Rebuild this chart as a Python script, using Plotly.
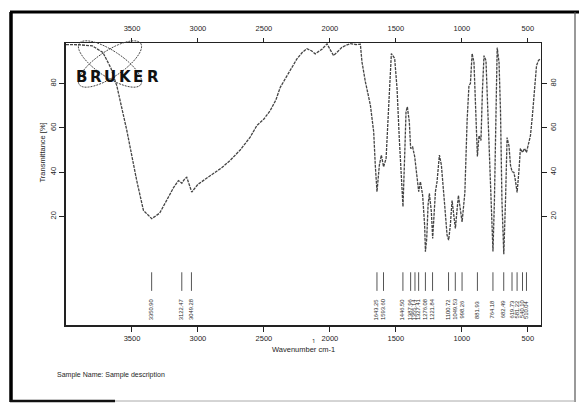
import numpy as np
import plotly.graph_objects as go

# ---- IR spectrum, transmittance vs wavenumber ----
wavenumber = [4000, 3900, 3800, 3720, 3660, 3615, 3539, 3464, 3413, 3350, 3290, 3236,
              3185, 3148, 3122, 3100, 3085, 3047, 3000, 2940, 2882, 2820, 2756, 2680,
              2604, 2553, 2500, 2452, 2410, 2376, 2335, 2301, 2250, 2210, 2174, 2140,
              2111, 2060, 2022, 1995, 1972, 1940, 1908, 1870, 1845, 1800, 1769, 1757,
              1731, 1693, 1668, 1656, 1643, 1625, 1610, 1593, 1574, 1554, 1534, 1509,
              1491, 1474, 1458, 1446, 1433, 1423, 1413, 1398, 1388, 1373, 1357, 1339,
              1327, 1314, 1297, 1282, 1276, 1266, 1256, 1246, 1231, 1221, 1210, 1200,
              1188, 1170, 1155, 1145, 1130, 1112, 1100, 1087, 1074, 1049, 1026, 998,
              977, 960, 946, 935, 922, 908, 893, 882, 870, 855, 844, 832, 817, 806,
              791, 779, 764, 753, 741, 732, 718, 707, 696, 682, 669, 657, 643, 631,
              619, 605, 594, 581, 567, 556, 540, 525, 510, 495, 480, 465, 447, 434,
              419, 408]
transmittance = [97.6, 97.5, 97.0, 94.0, 87.0, 79.0, 58.8, 36.2, 22.7, 19.0, 21.5, 27.2,
                 33.0, 36.2, 35.0, 37.0, 37.7, 31.0, 34.5, 37.0, 39.3, 42.0, 45.3, 50.0,
                 55.8, 61.1, 64.0, 67.8, 72.5, 78.3, 82.5, 85.9, 91.1, 94.0, 95.7, 94.8,
                 93.4, 95.5, 97.9, 95.0, 92.6, 94.5, 96.4, 97.5, 98.0, 97.6, 97.8, 89.8,
                 80.8, 70.2, 58.2, 43.2, 31.2, 43.2, 47.7, 42.4, 46.2, 70.2, 93.5, 91.3,
                 77.7, 55.2, 34.1, 24.4, 47.7, 67.2, 69.5, 62.7, 50.7, 51.4, 46.9, 35.7,
                 31.2, 35.7, 29.6, 16.1, 4.1, 10.1, 25.1, 30.4, 22.1, 10.1, 22.1, 31.2,
                 35.7, 47.7, 43.2, 37.2, 25.1, 11.6, 9.3, 16.1, 27.2, 14.6, 29.5, 17.5,
                 30.8, 63.3, 79.1, 80.0, 93.5, 89.5, 67.8, 47.1, 56.5, 54.3, 76.8, 92.6,
                 90.4, 72.3, 45.3, 22.7, 4.2, 27.2, 67.8, 96.2, 89.5, 67.8, 27.2, 2.9,
                 27.2, 55.6, 52.0, 43.0, 40.3, 39.9, 36.2, 30.8, 40.8, 50.7, 48.9, 50.7,
                 48.9, 53.4, 56.5, 65.6, 79.1, 88.1, 90.4, 91.0]

# picked peak positions (cm-1)
peaks = [3350.90, 3122.47, 3049.28,
         1643.25, 1593.60, 1446.50, 1387.96, 1355.14, 1327.41, 1276.08, 1221.84,
         1100.72, 1049.53, 998.26,
         881.93, 764.18, 682.49, 619.73, 581.22, 540.10, 510.04]

x_ticks = [3500, 3000, 2500, 2000, 1500, 1000, 500]
y_ticks = [20, 40, 60, 80]

W, H = 579, 410
ML, MR, MT, MB = 66, 38, 43, 85
PW, PH = W - ML - MR, H - MT - MB


def to_paper(x, y):
    return (x - ML) / PW, (H - MB - y) / PH


fig = go.Figure()

fig.add_trace(go.Scatter(
    x=wavenumber, y=transmittance, mode="lines",
    line=dict(color="#444444", width=1.3, dash="3px,1px"),
    hoverinfo="skip", showlegend=False))

# peak marker ticks in the lower band
px_, py_ = [], []
for p in peaks:
    px_ += [p, p, None]
    py_ += [-5.2, -13.6, None]
fig.add_trace(go.Scatter(x=px_, y=py_, mode="lines",
                         line=dict(color="#555", width=1),
                         hoverinfo="skip", showlegend=False))

# empty traces so the mirrored top / right axes get drawn
fig.add_trace(go.Scatter(x=[], y=[], xaxis="x2", yaxis="y", showlegend=False))
fig.add_trace(go.Scatter(x=[], y=[], xaxis="x", yaxis="y2", showlegend=False))

TXT = "#1e1e1e"
annotations = []
for p in peaks:
    annotations.append(dict(x=p, y=-22.0, xref="x", yref="y", text=f"{p:.2f}",
                            textangle=-90, showarrow=False,
                            font=dict(size=5.8, color=TXT, family="Liberation Sans")))

tick_font = dict(size=7.5, color=TXT, family="Liberation Sans")

ax, ay = to_paper(35, 153)
annotations.append(dict(x=ax, y=ay, xref="paper", yref="paper", text="Transmittance [%]",
                        textangle=-90, showarrow=False, font=tick_font))
ax, ay = to_paper(303, 356)
annotations.append(dict(x=ax, y=ay, xref="paper", yref="paper", text="Wavenumber cm-1",
                        showarrow=False, font=tick_font))
ax, ay = to_paper(313, 347)
annotations.append(dict(x=ax, y=ay, xref="paper", yref="paper", text="1",
                        showarrow=False, font=dict(size=6, color=TXT)))
ax, ay = to_paper(55, 381)
annotations.append(dict(x=ax, y=ay, xref="paper", yref="paper",
                        text="Sample Name: Sample description", xanchor="left",
                        showarrow=False, font=dict(size=7, color=TXT,
                                                   family="Liberation Sans")))

# BRUKER wordmark
for i, ch in enumerate("BRUKER"):
    ax, ay = to_paper(74 + 14.2 * i, 66)
    annotations.append(dict(x=ax, y=ay, xref="paper", yref="paper", text=f"<b>{ch}</b>",
                            showarrow=False,
                            font=dict(size=15, color="#111", family="DejaVu Sans")))

shapes = []
# orbit ellipses of the logo
cx, cy, a, b = 110, 64, 37, 13
for ang in (33.7, -33.7):
    t = np.linspace(0, 2 * np.pi, 60)
    th = np.radians(ang)
    ex = cx + a * np.cos(t) * np.cos(th) - b * np.sin(t) * np.sin(th)
    ey = cy + a * np.cos(t) * np.sin(th) + b * np.sin(t) * np.cos(th)
    pts = [to_paper(u, v) for u, v in zip(ex, ey)]
    path = "M " + " L ".join(f"{u:.4f},{v:.4f}" for u, v in pts) + " Z"
    shapes.append(dict(type="path", path=path, xref="paper", yref="paper",
                       line=dict(color="#444", width=1, dash="2px,1px")))


# page frame
def seg(x0, y0, x1, y1, color, width):
    p0, p1 = to_paper(x0, y0), to_paper(x1, y1)
    return dict(type="line", xref="paper", yref="paper", x0=p0[0], y0=p0[1],
                x1=p1[0], y1=p1[1], line=dict(color=color, width=width))


shapes += [seg(11, 12, 11, 402, "#000", 3.5),
           seg(10, 12, 579, 12, "#000", 3),
           seg(575, 12, 575, 402, "#555", 1.2),
           seg(10, 401, 115, 401, "#111", 2.5),
           seg(115, 401, 575, 401, "#aaa", 1)]

fig.update_layout(
    width=W, height=H, margin=dict(l=ML, r=MR, t=MT, b=MB),
    paper_bgcolor="white", plot_bgcolor="white",
    showlegend=False,
    xaxis=dict(range=[4000, 400], tickvals=x_ticks, ticks="outside", ticklen=5,
               tickcolor="#222", showline=True, linecolor="#222", linewidth=1.5,
               showgrid=False, zeroline=False, tickfont=tick_font),
    xaxis2=dict(overlaying="x", side="top", matches="x", range=[4000, 400],
                tickvals=x_ticks, ticks="outside", ticklen=4, tickcolor="#222",
                showline=True, linecolor="#222", linewidth=1.3, showgrid=False,
                zeroline=False, tickfont=tick_font, ticklabelstandoff=4),
    yaxis=dict(range=[-29, 98.3], tickvals=y_ticks, ticks="outside", ticklen=5,
               tickcolor="#222", showline=True, linecolor="#222", linewidth=1.5,
               showgrid=False, zeroline=False, tickangle=-90, tickfont=tick_font),
    yaxis2=dict(overlaying="y", side="right", matches="y", range=[-29, 98.3],
                tickvals=y_ticks, ticks="outside", ticklen=5, tickcolor="#222",
                showline=True, linecolor="#222", linewidth=1.3, showgrid=False,
                zeroline=False, tickangle=-90, tickfont=tick_font),
    annotations=annotations, shapes=shapes,
)

fig.write_html("out.html")
